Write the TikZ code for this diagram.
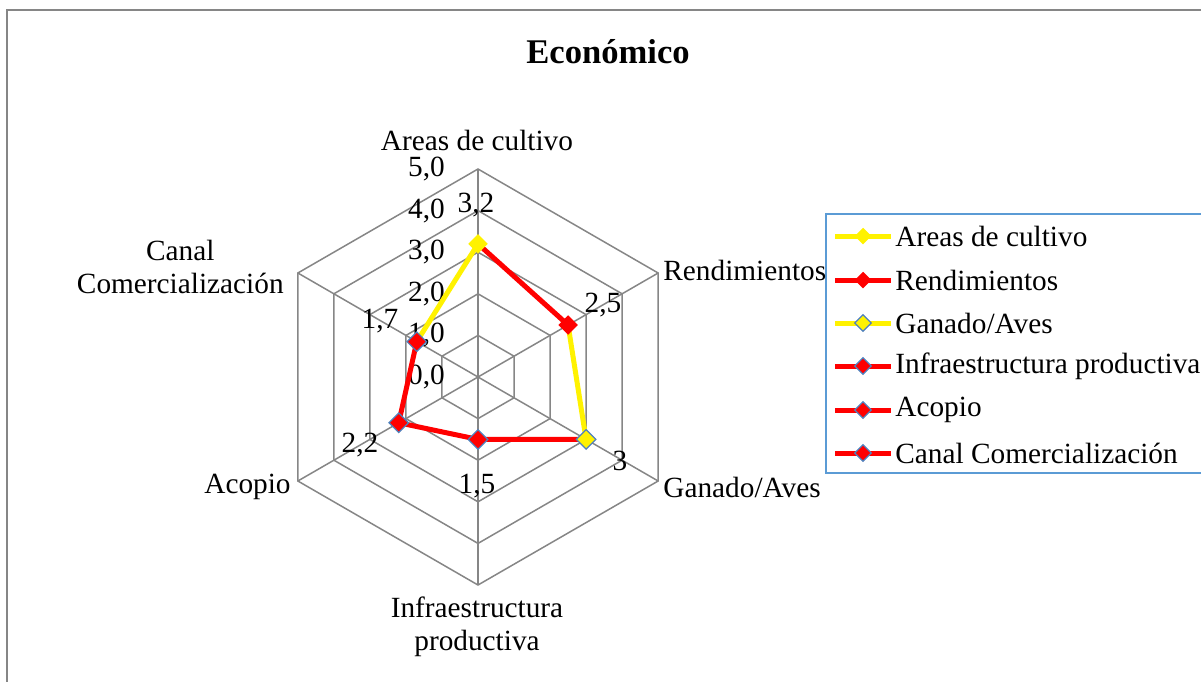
\documentclass[tikz,border=0pt]{standalone}
\usepackage{fontspec}
\setmainfont{Liberation Serif}
\usetikzlibrary{shapes.geometric}

\definecolor{gridgray}{HTML}{868686}
\definecolor{markblue}{HTML}{4F81BD}
\definecolor{legblue}{HTML}{5B9BD5}

\begin{document}
\begin{tikzpicture}[x=0.5pt,y=-0.5pt,
  every node/.style={inner sep=0pt, font=\fontsize{14.65}{16.5}\selectfont},
  grid/.style={draw=gridgray, line width=0.75pt},
  serie/.style={line width=2.5pt, line join=round},
  mk/.style 2 args={diamond, inner sep=0pt, minimum size=10pt, fill=#1, draw=#2, line width=0.6pt}]
  \useasboundingbox (0,0) rectangle (1201,681);
  % frames
  \draw[gridgray, line width=0.7pt] (7,10) rectangle (1215,695);
  \draw[legblue, line width=0.7pt] (826,214) rectangle (1215,473);
  % title
  \node[font=\bfseries\fontsize{17.3}{20}\selectfont] (title) at (608,52) {Económico};
  % radar grid and series
  \begin{scope}[shift={(478,377)}, x=20.8pt, y=20.8pt]
    \foreach \r in {1,...,5}
      \draw[grid] (90:\r) -- (30:\r) -- (-30:\r) -- (-90:\r) -- (-150:\r) -- (150:\r) -- cycle;
    \foreach \a in {90,30,-30,-90,-150,150}
      \draw[grid] (0,0) -- (\a:5);
    \foreach \r in {0,...,5}
      \node[anchor=east] (tick\r) at (-0.79,\r) {\r,0};
    % data points
    \coordinate (pA) at (90:3.2);
    \coordinate (pR) at (30:2.5);
    \coordinate (pG) at (-30:3);
    \coordinate (pI) at (-90:1.5);
    \coordinate (pAc) at (-150:2.2);
    \coordinate (pC) at (150:1.7);
    \draw[serie, red] (pA) -- (pR);
    \draw[serie, yellow] (pR) -- (pG);
    \draw[serie, red] (pG) -- (pI) -- (pAc) -- (pC);
    \draw[serie, yellow] (pC) -- (pA);
    \node[mk={yellow}{none}] (mA) at (pA) {};
    \node[mk={red}{none}] (mR) at (pR) {};
    \node[mk={yellow}{markblue}] (mG) at (pG) {};
    \node[mk={red}{markblue}] (mI) at (pI) {};
    \node[mk={red}{markblue}] (mAc) at (pAc) {};
    \node[mk={red}{markblue}] (mC) at (pC) {};
  \end{scope}
  % data labels
  \node (vA) at (476,205) {3,2};
  \node (vR) at (603,305) {2,5};
  \node (vG) at (620,461) {3};
  \node (vI) at (477,486) {1,5};
  \node (vAc) at (360,445) {2,2};
  \node (vC) at (380,321) {1,7};
  % category labels
  \node (catA) at (477,140) {Areas de cultivo};
  \node[anchor=west] (catR) at (663,270) {Rendimientos};
  \node[anchor=west] (catG) at (663,487) {Ganado/Aves};
  \node[align=center] (catI) at (477,627) {Infraestructura\\productiva};
  \node[anchor=east] (catAc) at (291,487) {Acopio};
  \node[anchor=east, align=center] (catC) at (284,267) {Canal\\Comercialización};
  % legend
  \foreach \y/\c/\b/\t [count=\i] in {236/yellow/none/{Areas de cultivo},
      280/red/none/Rendimientos, 323/yellow/markblue/{Ganado/Aves},
      366/red/markblue/{Infraestructura productiva}, 410/red/markblue/Acopio,
      453/red/markblue/{Canal Comercialización}} {
    \coordinate (la\i) at (835,\y);
    \coordinate (lb\i) at (891,\y);
    \draw[serie, \c] (la\i) -- (lb\i);
    \node[mk={\c}{\b}, minimum size=8.5pt] (lm\i) at (863,\y) {};
    \node[anchor=west] (lt\i) at (895,\y) {\t};
  }
\end{tikzpicture}
\end{document}
